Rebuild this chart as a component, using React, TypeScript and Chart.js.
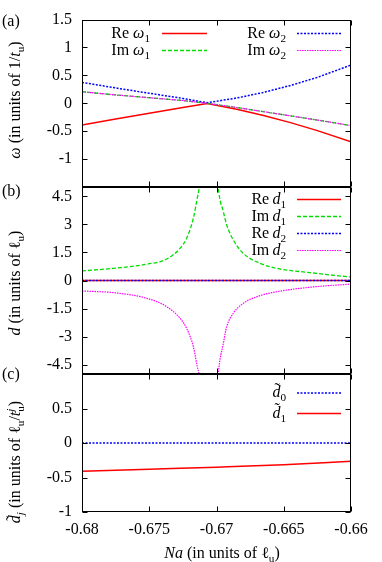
import React, { useEffect, useRef } from 'react';
import { Chart, registerables } from 'chart.js';

Chart.register(...registerables);

const FONT = '"Liberation Serif", "Times New Roman", serif';
const RED = '#ff0000';
const GREEN = '#00dd00';
const BLUE = '#0000ff';
const MAGENTA = '#ff00ff';

// ---- tick values ----
const xTicks = [-0.68, -0.675, -0.67, -0.665, -0.66];
const yTicksA = [-1.5, -1, -0.5, 0, 0.5, 1, 1.5];
const yTicksB = [-4.5, -3, -1.5, 0, 1.5, 3, 4.5];
const yTicksC = [-1, -0.5, 0, 0.5, 1];

// ---- panel (a): omega ----
const xA = [-0.68, -0.6775, -0.675, -0.6725, -0.6707, -0.6685, -0.6665, -0.6645, -0.6625, -0.66];
const reOmega1 = [-0.39, -0.28, -0.18, -0.075, -0.005, -0.106, -0.218, -0.346, -0.49, -0.69];
const imOmega1 = [0.207, 0.15, 0.1, 0.05, 0.0, -0.075, -0.15, -0.225, -0.3, -0.4];
const reOmega2 = [0.375, 0.275, 0.18, 0.087, 0.01, 0.095, 0.195, 0.32, 0.465, 0.685];
const imOmega2 = [0.207, 0.15, 0.1, 0.05, 0.0, -0.075, -0.15, -0.225, -0.3, -0.4];

// ---- panel (b): d ----
const xB = [
  -0.68, -0.67767, -0.67519, -0.6737, -0.67271, -0.67222, -0.67172, -0.67143, -0.67128, -0.6711,
  -0.6706,
  -0.67, -0.66987, -0.66949, -0.66924, -0.66875, -0.66801, -0.66677, -0.66552, -0.66305, -0.66,
];
const imD1 = [
  0.51, 0.65, 0.87, 1.15, 1.72, 2.26, 3.33, 4.4, 5.0, 6.5,
  null,
  6.5, 5.0, 3.68, 2.97, 2.17, 1.45, 0.92, 0.65, 0.42, 0.18,
];
const imD2 = [
  -0.56, -0.65, -0.95, -1.4, -2.02, -2.56, -3.54, -4.6, -5.1, -6.5,
  null,
  -6.5, -5.0, -3.36, -2.47, -1.75, -1.22, -0.81, -0.6, -0.36, -0.19,
];
const xZero = [-0.68, -0.67, -0.66];
const reD1 = [0, 0, 0];
const reD2 = [0, 0, 0];

// ---- panel (c): d tilde ----
const xC = [-0.68, -0.675, -0.67, -0.665, -0.66];
const dTilde0 = [0, 0, 0, 0, 0];
const dTilde1 = [-0.41, -0.38, -0.35, -0.315, -0.265];

const pts = (xs: number[], ys: (number | null)[]) => xs.map((x, i) => ({ x, y: ys[i] }));

// ---- rich text helpers ----
type Seg = { t?: string; it?: boolean; sub?: string; sup?: string; subIt?: boolean; supIt?: boolean; tilde?: boolean };

const fnt = (size: number, it?: boolean) => `${it ? 'italic ' : ''}${size}px ${FONT}`;

function segW(ctx: CanvasRenderingContext2D, s: Seg, base: number) {
  let w = 0;
  if (s.t) { ctx.font = fnt(base, s.it); w = ctx.measureText(s.t).width; }
  let ws = 0, wp = 0;
  if (s.sub) { ctx.font = fnt(base * 0.7, s.subIt); ws = ctx.measureText(s.sub).width; }
  if (s.sup) { ctx.font = fnt(base * 0.7, s.supIt); wp = ctx.measureText(s.sup).width; }
  return w + Math.max(ws, wp);
}

function drawRich(ctx: CanvasRenderingContext2D, segs: Seg[], x: number, y: number, align: 'left' | 'right' | 'center', base = 16) {
  const total = segs.reduce((a, s) => a + segW(ctx, s, base), 0);
  let cx = align === 'right' ? x - total : align === 'center' ? x - total / 2 : x;
  ctx.textAlign = 'left';
  ctx.textBaseline = 'alphabetic';
  ctx.fillStyle = '#000';
  for (const s of segs) {
    let w = 0;
    if (s.t) {
      ctx.font = fnt(base, s.it);
      ctx.fillText(s.t, cx, y);
      w = ctx.measureText(s.t).width;
      if (s.tilde) {
        ctx.font = fnt(base, false);
        const tw = ctx.measureText('\u02DC').width;
        ctx.fillText('\u02DC', cx + w * 0.6 - tw / 2, y - base * 0.2);
        ctx.font = fnt(base, s.it);
      }
    }
    cx += w;
    let ws = 0, wp = 0;
    if (s.sub) {
      ctx.font = fnt(base * 0.7, s.subIt);
      ctx.fillText(s.sub, cx, y + base * 0.25);
      ws = ctx.measureText(s.sub).width;
    }
    if (s.sup) {
      ctx.font = fnt(base * 0.7, s.supIt);
      ctx.fillText(s.sup, cx, y - base * 0.4);
      wp = ctx.measureText(s.sup).width;
    }
    cx += Math.max(ws, wp);
  }
}

type LegendRow = { segs: Seg[]; color: string; dash: number[]; lw: number; textX: number; x1: number; x2: number; y: number };
type Label = { segs: Seg[]; x: number; y: number; align: 'left' | 'right' | 'center'; rot?: boolean };

type DS = { data: { x: number; y: number | null }[]; color: string; dash: number[]; lw: number; order: number; smooth?: boolean };

type PanelProps = {
  datasets: DS[];
  top: number;
  bottom: number;
  yMin: number;
  yMax: number;
  yTicks: number[];
  hide: number[];
  showX: boolean;
  legend: LegendRow[];
  labels: Label[];
};

const W = 382;
const H = 562;
const LEFT = 82;
const RIGHT = 351;

function Panel(p: PanelProps) {
  const ref = useRef<HTMLCanvasElement | null>(null);
  useEffect(() => {
    if (!ref.current) return;
    const deco = {
      id: 'deco',
      afterDraw(chart: any) {
        const { ctx, chartArea: a, scales } = chart;
        ctx.save();
        ctx.strokeStyle = '#000';
        ctx.lineWidth = 1;
        ctx.setLineDash([]);
        const l = Math.round(a.left) + 0.5, r = Math.round(a.right) - 0.5;
        const t = Math.round(a.top) + 0.5, b = Math.round(a.bottom) - 0.5;
        ctx.strokeRect(l, t, r - l, b - t);
        const TL = 5;
        ctx.beginPath();
        for (const v of p.yTicks) {
          const py = Math.round(scales.y.getPixelForValue(v)) + 0.5;
          ctx.moveTo(l, py); ctx.lineTo(l + TL, py);
          ctx.moveTo(r, py); ctx.lineTo(r - TL, py);
        }
        for (const v of xTicks) {
          const px = Math.round(scales.x.getPixelForValue(v)) + 0.5;
          ctx.moveTo(px, t); ctx.lineTo(px, t + TL);
          ctx.moveTo(px, b); ctx.lineTo(px, b - TL);
        }
        ctx.stroke();
        for (const row of p.legend) {
          drawRich(ctx, row.segs, row.textX, row.y + 4, 'right');
          ctx.beginPath();
          ctx.strokeStyle = row.color;
          ctx.lineWidth = row.lw;
          ctx.setLineDash(row.dash);
          ctx.moveTo(row.x1, row.y);
          ctx.lineTo(row.x2, row.y);
          ctx.stroke();
        }
        ctx.setLineDash([]);
        for (const lb of p.labels) {
          ctx.save();
          ctx.translate(lb.x, lb.y);
          if (lb.rot) ctx.rotate(-Math.PI / 2);
          drawRich(ctx, lb.segs, 0, 0, lb.align);
          ctx.restore();
        }
        ctx.restore();
      },
    };

    const chart = new Chart(ref.current, {
      type: 'line',
      data: {
        datasets: p.datasets.map((d) => ({
          data: d.data,
          borderColor: d.color,
          borderWidth: d.lw,
          borderDash: d.dash,
          pointRadius: 0,
          fill: false,
          tension: 0,
          cubicInterpolationMode: d.smooth ? 'monotone' : 'default',
          spanGaps: false,
          order: d.order,
          clip: 0,
        })) as any,
      },
      options: {
        responsive: false,
        maintainAspectRatio: false,
        animation: false,
        events: [],
        layout: { padding: { left: 0, right: W - RIGHT, top: p.top, bottom: p.showX ? 0 : H - p.bottom } },
        plugins: { legend: { display: false }, tooltip: { enabled: false }, title: { display: false } },
        scales: {
          x: {
            type: 'linear',
            min: -0.68,
            max: -0.66,
            display: p.showX,
            afterBuildTicks: (s: any) => { s.ticks = xTicks.map((v) => ({ value: v })); },
            afterFit: (s: any) => { s.height = p.showX ? H - p.bottom : 0; },
            grid: { display: false, drawTicks: false },
            border: { display: false },
            ticks: {
              font: { family: FONT, size: 16 },
              color: '#000',
              padding: 8,
              maxRotation: 0,
              minRotation: 0,
              autoSkip: false,
              callback: (v: any) => String(v),
            },
          },
          y: {
            type: 'linear',
            min: p.yMin,
            max: p.yMax,
            afterBuildTicks: (s: any) => { s.ticks = p.yTicks.map((v) => ({ value: v })); },
            afterFit: (s: any) => { s.width = LEFT; },
            grid: { display: false, drawTicks: false },
            border: { display: false },
            ticks: {
              font: { family: FONT, size: 16 },
              color: '#000',
              padding: 10,
              autoSkip: false,
              callback: (v: any) => (p.hide.includes(v) ? '' : String(v)),
            },
          },
        },
      } as any,
      plugins: [deco],
    });
    return () => chart.destroy();
  }, []);
  return (
    <canvas
      ref={ref}
      width={W}
      height={H}
      style={{ position: 'absolute', left: 0, top: 0, width: W, height: H }}
    />
  );
}

export default function App() {
  const panelA: PanelProps = {
    top: 19,
    bottom: 187,
    yMin: -1.5,
    yMax: 1.5,
    yTicks: yTicksA,
    hide: [-1.5],
    showX: false,
    datasets: [
      { data: pts(xA, reOmega1), color: RED, dash: [], lw: 1.5, order: 4 },
      { data: pts(xA, imOmega1), color: GREEN, dash: [4, 2], lw: 1.3, order: 3 },
      { data: pts(xA, reOmega2), color: BLUE, dash: [2, 1.5], lw: 1.5, order: 2 },
      { data: pts(xA, imOmega2), color: MAGENTA, dash: [1.5, 1], lw: 1.2, order: 1 },
    ],
    legend: [
      { segs: [{ t: 'Re ' }, { t: 'ω', it: true, sub: '1' }], color: RED, dash: [], lw: 1.5, textX: 150, x1: 162, x2: 207, y: 33.5 },
      { segs: [{ t: 'Im ' }, { t: 'ω', it: true, sub: '1' }], color: GREEN, dash: [4, 2], lw: 1.3, textX: 150, x1: 162, x2: 207, y: 50.5 },
      { segs: [{ t: 'Re ' }, { t: 'ω', it: true, sub: '2' }], color: BLUE, dash: [2, 1.5], lw: 1.5, textX: 286, x1: 297, x2: 341, y: 33.5 },
      { segs: [{ t: 'Im ' }, { t: 'ω', it: true, sub: '2' }], color: MAGENTA, dash: [1.5, 1], lw: 1.2, textX: 286, x1: 297, x2: 341, y: 50.5 },
    ],
    labels: [
      { segs: [{ t: '(a)' }], x: 2, y: 26, align: 'left' },
      {
        segs: [{ t: 'ω', it: true }, { t: ' (in units of 1/' }, { t: 't', it: true, sub: 'u' }, { t: ')' }],
        x: 20, y: 100, align: 'center', rot: true,
      },
    ],
  };

  const panelB: PanelProps = {
    top: 187,
    bottom: 374,
    yMin: -5,
    yMax: 5,
    yTicks: yTicksB,
    hide: [],
    showX: false,
    datasets: [
      { data: pts(xZero, reD1), color: RED, dash: [], lw: 1.5, order: 4 },
      { data: pts(xB, imD1), color: GREEN, dash: [4, 2], lw: 1.3, order: 3, smooth: true },
      { data: pts(xZero, reD2), color: BLUE, dash: [2, 1.5], lw: 1.5, order: 2 },
      { data: pts(xB, imD2), color: MAGENTA, dash: [1.5, 1], lw: 1.2, order: 1, smooth: true },
    ],
    legend: [
      { segs: [{ t: 'Re\u2009' }, { t: 'd', it: true, sub: '1' }], color: RED, dash: [], lw: 1.5, textX: 286, x1: 297, x2: 341, y: 199.5 },
      { segs: [{ t: 'Im\u2009' }, { t: 'd', it: true, sub: '1' }], color: GREEN, dash: [4, 2], lw: 1.3, textX: 286, x1: 297, x2: 341, y: 216.5 },
      { segs: [{ t: 'Re\u2009' }, { t: 'd', it: true, sub: '2' }], color: BLUE, dash: [2, 1.5], lw: 1.5, textX: 286, x1: 297, x2: 341, y: 233.5 },
      { segs: [{ t: 'Im\u2009' }, { t: 'd', it: true, sub: '2' }], color: MAGENTA, dash: [1.5, 1], lw: 1.2, textX: 286, x1: 297, x2: 341, y: 250.5 },
    ],
    labels: [
      { segs: [{ t: '(b)' }], x: 2, y: 196, align: 'left' },
      {
        segs: [{ t: 'd', it: true }, { t: ' (in units of ' }, { t: 'ℓ', sub: 'u' }, { t: ')' }],
        x: 20, y: 283, align: 'center', rot: true,
      },
    ],
  };

  const panelC: PanelProps = {
    top: 374,
    bottom: 512,
    yMin: -1,
    yMax: 1,
    yTicks: yTicksC,
    hide: [1],
    showX: true,
    datasets: [
      { data: pts(xC, dTilde0), color: BLUE, dash: [2, 1.5], lw: 1.5, order: 1 },
      { data: pts(xC, dTilde1), color: RED, dash: [], lw: 1.5, order: 2, smooth: true },
    ],
    legend: [
      { segs: [{ t: 'd', it: true, tilde: true, sub: '0' }], color: BLUE, dash: [2, 1.5], lw: 1.5, textX: 286, x1: 297, x2: 341, y: 393 },
      { segs: [{ t: 'd', it: true, tilde: true, sub: '1' }], color: RED, dash: [], lw: 1.5, textX: 286, x1: 297, x2: 341, y: 413.5 },
    ],
    labels: [
      { segs: [{ t: '(c)' }], x: 2, y: 379, align: 'left' },
      {
        segs: [
          { t: 'd', it: true, tilde: true, sub: 'j', subIt: true },
          { t: ' (in units of ' },
          { t: 'ℓ', sub: 'u' },
          { t: '/' },
          { t: 't', it: true, sub: 'u', sup: 'j', supIt: true },
          { t: ')' },
        ],
        x: 20, y: 462, align: 'center', rot: true,
      },
      {
        segs: [{ t: 'Na', it: true }, { t: ' (in units of ' }, { t: 'ℓ', sub: 'u' }, { t: ')' }],
        x: 222, y: 558, align: 'center',
      },
    ],
  };

  return (
    <div style={{ position: 'absolute', left: 0, top: 0, width: W, height: H, background: '#fff' }}>
      <Panel {...panelA} />
      <Panel {...panelB} />
      <Panel {...panelC} />
    </div>
  );
}
